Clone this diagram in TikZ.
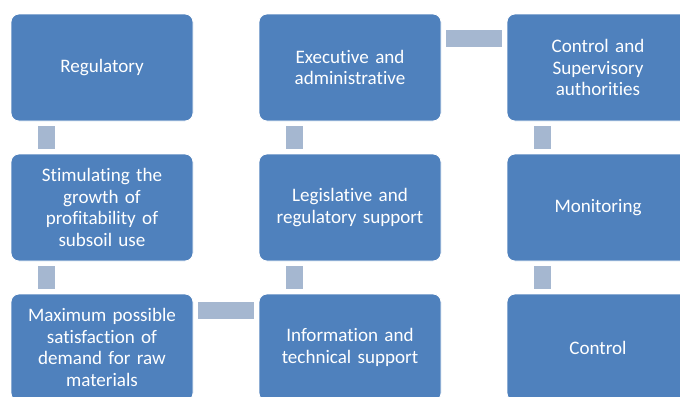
\documentclass[tikz,border=0pt]{standalone}
\usepackage{fontspec}
\setmainfont[Ligatures=NoCommon]{Carlito}
\definecolor{boxblue}{HTML}{4F81BD}
\definecolor{linkgray}{HTML}{A5B7D0}
\tikzset{
  block/.style={draw=white, line width=0.6pt, fill=boxblue, rounded corners=6pt,
    minimum width=136.5pt, minimum height=80.25pt, text width=124pt, align=center,
    text=white, inner sep=0pt, font=\fontsize{14.3}{16.1}\selectfont},
  link/.style={draw=linkgray, line width=12.75pt, shorten >=3.5pt, shorten <=3.5pt}
}
\begin{document}
\begin{tikzpicture}[x=0.75pt, y=-0.75pt]
  \useasboundingbox (0,0) rectangle (680,396);
  \clip (0,0) rectangle (680,396);
  % first row
  \node [block] (Reg) at (102,67.5) {Regulatory};
  \node [block] (Exec) at (350,67.5) {Executive and\\administrative};
  \node [block] (CSA) at (598,67.5) {Control and\\Supervisory\\authorities};
  % second row
  \node [block] (Stim) at (102,207.5) {Stimulating the\\growth of\\profitability of\\subsoil use};
  \node [block] (Legis) at (350,207.5) {Legislative and\\regulatory support};
  \node [block] (Monit) at (598,207.5) {Monitoring};
  % third row
  \node [block] (MaxSat) at (102,347.5) {Maximum possible\\satisfaction of\\demand for raw\\materials};
  \node [block] (Info) at (350,347.5) {Information and\\technical support};
  \node [block] (Ctrl) at (598,347.5) {Control};
  % links
  \path[link] ([xshift=26.6pt]Reg.south west) edge ([xshift=26.6pt]Stim.north west);
  \path[link] ([xshift=26.6pt]Stim.south west) edge ([xshift=26.6pt]MaxSat.north west);
  \path[link] ([xshift=26.6pt]Exec.south west) edge ([xshift=26.6pt]Legis.north west);
  \path[link] ([xshift=26.6pt]Legis.south west) edge ([xshift=26.6pt]Info.north west);
  \path[link] ([xshift=26.6pt]CSA.south west) edge ([xshift=26.6pt]Monit.north west);
  \path[link] ([xshift=26.6pt]Monit.south west) edge ([xshift=26.6pt]Ctrl.north west);
  \path[link] ([yshift=-18.4pt]Exec.north east) edge ([yshift=-18.4pt]CSA.north west);
  \path[link] ([yshift=-12.4pt]MaxSat.north east) edge ([yshift=-12.4pt]Info.north west);
\end{tikzpicture}
\end{document}
